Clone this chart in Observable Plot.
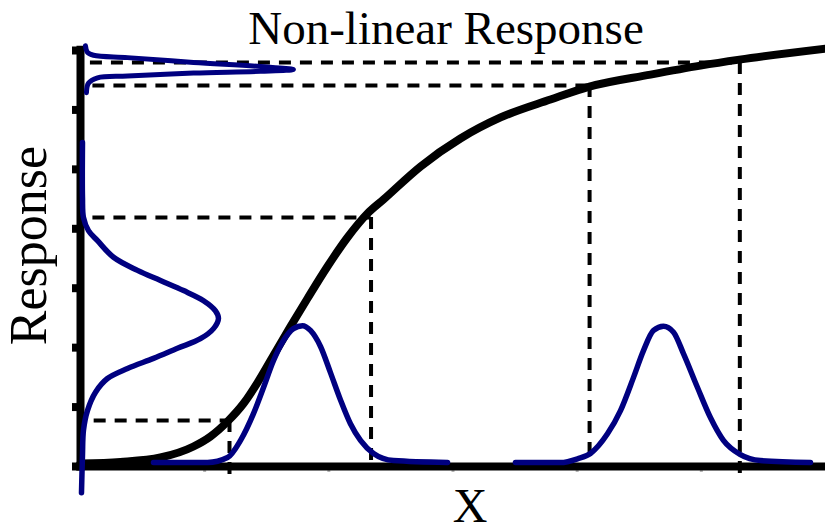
<!DOCTYPE html>
<html>
<head>
<meta charset="utf-8">
<script src="https://cdn.jsdelivr.net/npm/d3@7"></script>
<script src="https://cdn.jsdelivr.net/npm/@observablehq/plot@0.6"></script>
<style>
  html, body { margin: 0; padding: 0; background: #fff; }
</style>
</head>
<body>
<div id="chart"></div>
<script>
// ---- Data ----
const titleText = "Non-linear Response";
const xLabel = "X";
const yLabel = "Response";

// Response curve
const curveX = [0, 0.322, 0.644, 0.910, 1.047, 1.184, 1.313, 1.426, 1.554, 1.691, 1.828, 1.989, 2.150, 2.311, 2.440, 2.738, 3.060, 3.383, 3.785, 4.099, 4.591, 4.993, 5.307, 6.0];
const curveY = [0.050, 0.076, 0.151, 0.336, 0.505, 0.757, 1.060, 1.413, 1.868, 2.356, 2.827, 3.365, 3.853, 4.257, 4.493, 5.048, 5.519, 5.873, 6.175, 6.393, 6.595, 6.746, 6.847, 7.032];

// Input distribution 1 (steep region)
const in1X = [0.588, 1.023, 1.184, 1.289, 1.393, 1.474, 1.554, 1.635, 1.715, 1.788, 1.852, 1.933, 2.013, 2.094, 2.174, 2.255, 2.360, 2.521, 2.956];
const in1Y = [0.067, 0.067, 0.15, 0.44, 0.89, 1.33, 1.78, 2.12, 2.32, 2.37, 2.29, 2.02, 1.58, 1.12, 0.72, 0.44, 0.22, 0.10, 0.067];

// Input distribution 2 (flat region)
const in2X = [3.503, 3.866, 4.003, 4.107, 4.244, 4.349, 4.454, 4.534, 4.615, 4.695, 4.776, 4.856, 4.969, 5.074, 5.178, 5.315, 5.476, 5.879];
const in2Y = [0.067, 0.067, 0.13, 0.22, 0.55, 0.94, 1.50, 1.95, 2.29, 2.36, 2.26, 1.90, 1.33, 0.82, 0.44, 0.20, 0.10, 0.067];

// Output distribution 1 (broad, along the response axis)
const out1X = [0.016, 0.016, 0.024, 0.064, 0.137, 0.266, 0.459, 0.644, 0.830, 0.991, 1.087, 1.111, 1.071, 0.966, 0.781, 0.588, 0.379, 0.217, 0.121, 0.056, 0.024, 0.016, 0.008];
const out1Y = [5.45, 4.53, 4.19, 3.97, 3.80, 3.52, 3.30, 3.13, 2.96, 2.79, 2.62, 2.49, 2.32, 2.15, 1.99, 1.82, 1.65, 1.48, 1.25, 0.94, 0.61, 0.19, -0.44];

// Output distribution 2 (narrow)
const out2X = [0.040, 0.056, 0.105, 0.379, 0.910, 1.450, 1.715, 1.450, 0.910, 0.379, 0.137, 0.064, 0.048];
const out2Y = [7.08, 6.97, 6.92, 6.88, 6.80, 6.73, 6.68, 6.65, 6.62, 6.57, 6.54, 6.45, 6.29];

// Dashed guides: input value and its response
const guideX = [1.20, 2.34, 4.10, 5.31];
const guideY = [0.774, 4.19, 6.41, 6.80];
const guideBottom = [-0.135, 0, 0, -0.15];
const guideStart = [0.11, 0.1, 0.1, 0.08];

// Axis ticks
const yTicks = [0, 1, 2, 3, 4, 5, 6, 7];
const xTicks = [1, 2, 3, 4, 5];

// ---- Build tables ----
const zip = (xs, ys) => xs.map((x, i) => ({x, y: ys[i]}));
const curve = zip(curveX, curveY);
const in1 = zip(in1X, in1Y);
const in2 = zip(in2X, in2Y);
const out1 = zip(out1X, out1Y);
const out2 = zip(out2X, out2Y);
const guides = guideX.map((x, i) => ({x, y: guideY[i], yb: guideBottom[i], x0: guideStart[i]}));

const navy = "#000080";
const dash = "12,9";

const chart = Plot.plot({
  width: 825,
  height: 532,
  marginLeft: 80,
  marginRight: 0,
  marginTop: 50,
  marginBottom: 66,
  x: {domain: [0, 6]},
  y: {domain: [0, 7]},
  style: {fontFamily: "'Liberation Serif', 'Times New Roman', serif", background: "#fff", color: "#000"},
  marks: [
    Plot.axisX({ticks: xTicks, tickSize: 6, stroke: "#b5b5b5", strokeWidth: 3, tickFormat: () => "", label: null}),
    Plot.axisY({ticks: yTicks, tickSize: 8, strokeWidth: 8, tickFormat: () => "", label: null}),
    Plot.ruleX([0], {y1: -0.07, y2: 7.07, strokeWidth: 8, stroke: "#000"}),
    Plot.ruleY([0], {x1: -0.03, x2: 6, strokeWidth: 8, stroke: "#000"}),
    Plot.ruleY(guides, {y: "y", x1: "x0", x2: "x", stroke: "#000", strokeWidth: 4, strokeDasharray: dash}),
    Plot.ruleX(guides, {x: "x", y1: "y", y2: "yb", stroke: "#000", strokeWidth: 4, strokeDasharray: dash}),
    Plot.line(curve, {x: "x", y: "y", stroke: "#000", strokeWidth: 8, curve: "monotone-x"}),
    Plot.line(in1, {x: "x", y: "y", stroke: navy, strokeWidth: 5.5, curve: "monotone-x"}),
    Plot.line(in2, {x: "x", y: "y", stroke: navy, strokeWidth: 5.5, curve: "monotone-x"}),
    Plot.line(out1, {x: "x", y: "y", stroke: navy, strokeWidth: 5.5, curve: "catmull-rom"}),
    Plot.line(out2, {x: "x", y: "y", stroke: navy, strokeWidth: 5, curve: "catmull-rom"}),
    Plot.text([titleText], {text: d => d, frameAnchor: "top", dx: -7, dy: -7, lineAnchor: "bottom", fontSize: 47, fill: "#000"}),
    Plot.text([yLabel], {text: d => d, frameAnchor: "left", dx: -35, dy: -13, rotate: -90, lineAnchor: "bottom", textAnchor: "middle", fontSize: 52, fill: "#000"}),
    Plot.text([xLabel], {text: d => d, frameAnchor: "bottom", dx: 17, dy: 55, lineAnchor: "bottom", fontSize: 48, fill: "#000"})
  ]
});
document.getElementById("chart").appendChild(chart);
</script>
</body>
</html>
